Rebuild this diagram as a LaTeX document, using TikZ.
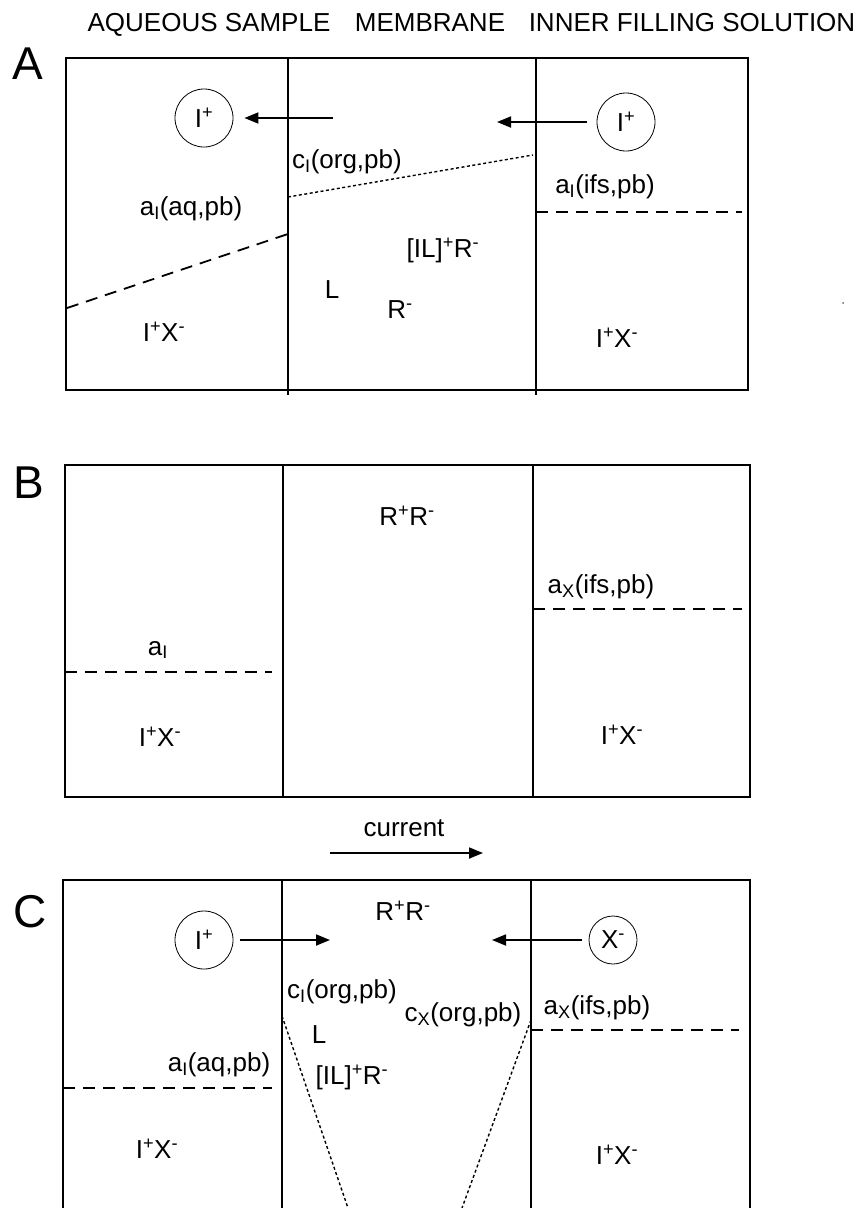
\documentclass[tikz,border=0pt]{standalone}
\usepackage{fontspec}
\setmainfont{Liberation Sans}
\usetikzlibrary{arrows.meta}
\begin{document}
\begin{tikzpicture}[x=1pt,y=-1pt,
  txt/.style={font=\fontsize{26}{30}\selectfont, inner sep=0pt, anchor=center},
  hdr/.style={font=\fontsize{26}{30}\selectfont, inner sep=0pt, anchor=base},
  big/.style={font=\fontsize{46}{50}\selectfont, inner sep=0pt, anchor=center},
  ion/.style={draw, circle, line width=0.8pt, inner sep=0pt, font=\fontsize{26}{30}\selectfont},
  frame/.style={line width=1.6pt},
  wall/.style={line width=1.3pt},
  bnd/.style={line width=1.8pt, dash pattern=on 12pt off 8pt},
  prof/.style={line width=1.4pt, dash pattern=on 3pt off 2.5pt},
  arr/.style={line width=1.8pt, -{Triangle[length=14pt,width=11pt]}}]
\useasboundingbox (0,0) rectangle (857,1208);

% header
\node[hdr] (h1) at (209,31) {AQUEOUS SAMPLE};
\node[hdr] (h2) at (430,31) {MEMBRANE};
\node[hdr] (h3) at (692,31) {INNER FILLING SOLUTION};

% ---------------- Panel A
\node[big] (lA) at (28,64) {A};
\draw[frame] (66,58) rectangle (748,390);
\draw[wall] (288,58) -- (288,395);
\draw[wall] (536,58) -- (536,395);
\node[ion, minimum size=58pt] (aI1) at (204,118) {I\textsuperscript{+}};
\node[ion, minimum size=58pt] (aI2) at (626,122) {I\textsuperscript{+}};
\coordinate (aA1) at (333,118);
\coordinate (aA2) at (497,122);
\draw[arr, shorten >=11pt] (aA1) -- (aI1.east);
\draw[arr, shorten <=10pt] (aI2.west) -- (aA2);
\node[txt] (cIA) at (347,162) {c\textsubscript{I}(org,pb)};
\node[txt] (aIaqA) at (191,209) {a\textsubscript{I}(aq,pb)};
\node[txt] (aIifsA) at (605,187) {a\textsubscript{I}(ifs,pb)};
\node[txt] (ILRA) at (443,250) {[IL]\textsuperscript{+}R\textsuperscript{-}};
\node[txt] (LA) at (332,290) {L};
\node[txt] (RA) at (400,310) {R\textsuperscript{-}};
\node[txt] (IX1A) at (164,332) {I\textsuperscript{+}X\textsuperscript{-}};
\node[txt] (IX2A) at (617,338) {I\textsuperscript{+}X\textsuperscript{-}};
\draw[bnd] (67,308) -- (288,234);
\draw[prof] (288,197) -- (533,155);
\draw[bnd] (536,212) -- (742,212);
\fill[black!60] (843,303) circle (1);

% ---------------- Panel B
\node[big] (lB) at (29,483) {B};
\draw[frame] (65,465) rectangle (750,797);
\draw[wall] (283,465) -- (283,797);
\draw[wall] (533,465) -- (533,797);
\node[txt] (RRB) at (407,516) {R\textsuperscript{+}R\textsuperscript{-}};
\node[txt] (aXB) at (601,587) {a\textsubscript{X}(ifs,pb)};
\node[txt] (aIB) at (158,650) {a\textsubscript{I}};
\node[txt] (IX1B) at (160,737) {I\textsuperscript{+}X\textsuperscript{-}};
\node[txt] (IX2B) at (622,735) {I\textsuperscript{+}X\textsuperscript{-}};
\draw[bnd] (533,609) -- (742,609);
\draw[bnd] (65,672) -- (272,672);

% ---------------- current
\node[txt] (cur) at (404,828) {current};
\coordinate (cur1) at (330,853);
\coordinate (cur2) at (483,853);
\draw[arr] (cur1) -- (cur2);

% ---------------- Panel C
\node[big] (lC) at (30,912) {C};
\draw[frame] (63,1208) -- (63,880) -- (750,880) -- (750,1208);
\draw[wall] (282,880) -- (282,1208);
\draw[wall] (531,880) -- (531,1208);
\node[txt] (RRC) at (403,911) {R\textsuperscript{+}R\textsuperscript{-}};
\node[ion, minimum size=58pt] (cI) at (204,940) {I\textsuperscript{+}};
\node[ion, minimum size=48pt] (cX) at (613,940) {X\textsuperscript{-}};
\coordinate (cA1) at (330,940);
\coordinate (cA2) at (492,940);
\draw[arr, shorten <=7pt] (cI.east) -- (cA1);
\draw[arr, shorten <=7pt] (cX.west) -- (cA2);
\node[txt] (cIC) at (342,992) {c\textsubscript{I}(org,pb)};
\node[txt] (cXC) at (463,1015) {c\textsubscript{X}(org,pb)};
\node[txt] (LC) at (319,1035) {L};
\node[txt] (ILRC) at (352,1077) {[IL]\textsuperscript{+}R\textsuperscript{-}};
\node[txt] (aXC) at (597,1008) {a\textsubscript{X}(ifs,pb)};
\node[txt] (aIaqC) at (219,1065) {a\textsubscript{I}(aq,pb)};
\node[txt] (IX1C) at (157,1149) {I\textsuperscript{+}X\textsuperscript{-}};
\node[txt] (IX2C) at (617,1155) {I\textsuperscript{+}X\textsuperscript{-}};
\draw[prof] (282,1016) -- (348,1208);
\draw[prof] (531,1020) -- (462,1208);
\draw[bnd] (531,1030) -- (739,1030);
\draw[bnd] (63,1088) -- (272,1088);
\end{tikzpicture}
\end{document}
